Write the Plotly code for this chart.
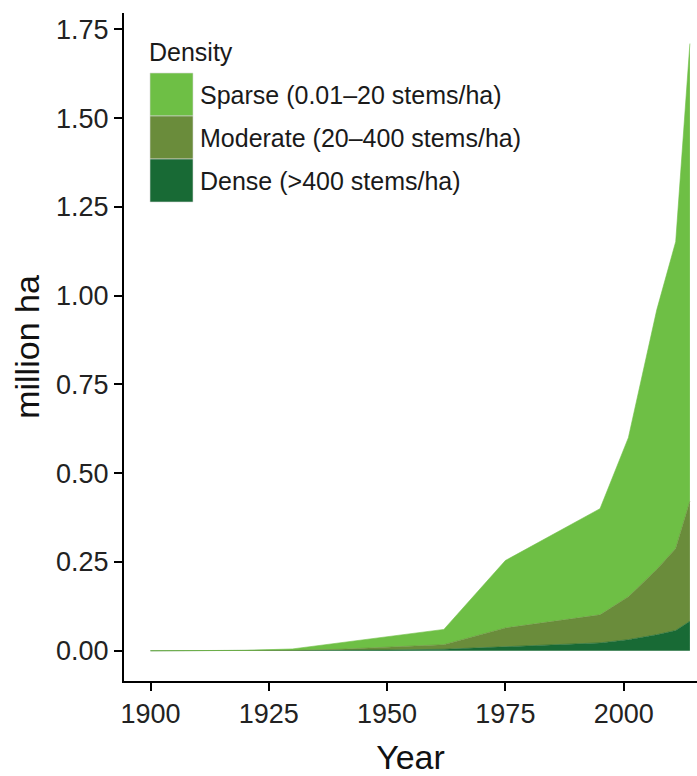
import plotly.graph_objects as go

# Area by tree density class (million ha)
years = [1900, 1910, 1920, 1930, 1940, 1950, 1962, 1975, 1995, 2001, 2007, 2011, 2014]
dense = [0.0, 0.0, 0.0, 0.0005, 0.001, 0.002, 0.004, 0.011, 0.022, 0.031, 0.045, 0.057, 0.083]
moderate = [0.0, 0.0, 0.0, 0.0005, 0.003, 0.007, 0.013, 0.053, 0.079, 0.121, 0.184, 0.231, 0.338]
sparse = [0.0, 0.0, 0.001, 0.004, 0.018, 0.031, 0.043, 0.190, 0.299, 0.448, 0.731, 0.864, 1.289]

series_names = ["Dense (>400 stems/ha)", "Moderate (20–400 stems/ha)", "Sparse (0.01–20 stems/ha)"]
colors = ["#186a35", "#6a8c3b", "#6ebf45"]

FONT = "Liberation Sans, Arial, sans-serif"
W, H = 697, 776
ML, MR, MT, MB = 124, 0, 13, 95

fig = go.Figure()
for name, vals, col in zip(series_names, [dense, moderate, sparse], colors):
    fig.add_trace(go.Scatter(
        x=years, y=vals, name=name, mode='lines',
        stackgroup='one',
        line=dict(width=0.6, color=col),
        fillcolor=col,
        showlegend=False
    ))


# manual legend (big square keys like the original)
def px_x(p):
    return (p - ML) / (W - ML - MR)


def px_y(p):
    return (H - MB - p) / (H - MT - MB)


key_tops = [73, 116, 159]
legend_order = [2, 1, 0]  # sparse, moderate, dense
for top, idx in zip(key_tops, legend_order):
    fig.add_shape(type='rect', xref='paper', yref='paper',
                  x0=px_x(150), x1=px_x(193), y0=px_y(top + 43), y1=px_y(top),
                  fillcolor=colors[idx], line=dict(width=0.6, color='#d8d8d8'))
    fig.add_annotation(x=px_x(198), y=px_y(top + 21.5), xref='paper', yref='paper',
                       text=series_names[idx], showarrow=False,
                       xanchor='left', yanchor='middle',
                       font=dict(family=FONT, size=25, color='#1a1a1a'))
fig.add_annotation(x=px_x(147), y=px_y(52), xref='paper', yref='paper',
                   text="Density", showarrow=False, xanchor='left', yanchor='middle',
                   font=dict(family=FONT, size=25, color='#1a1a1a'))

axis_common = dict(
    showline=True, linecolor='black', linewidth=2,
    ticks='outside', ticklen=8, tickwidth=1.5, tickcolor='black',
    showgrid=False, zeroline=False, automargin=False,
    tickfont=dict(family=FONT, size=27, color='#222222'),
)

fig.update_layout(
    width=W, height=H,
    margin=dict(l=ML, r=MR, t=MT, b=MB, autoexpand=False),
    plot_bgcolor='white', paper_bgcolor='white',
    showlegend=False,
    xaxis=dict(range=[1894.4, 2015.5], tickvals=[1900, 1925, 1950, 1975, 2000],
               title=dict(text="Year", font=dict(family=FONT, size=34, color='#111111'),
                          standoff=18),
               **axis_common),
    yaxis=dict(range=[-0.0853, 1.796], tickvals=[0, 0.25, 0.5, 0.75, 1.0, 1.25, 1.5, 1.75],
               tickformat='.2f',
               title=dict(text="million ha", font=dict(family=FONT, size=34, color='#111111'),
                          standoff=6),
               **axis_common),
)

# page body has a default 8px margin; drop it so the figure sits at the corner
fig.write_html("out.html", config={'displayModeBar': False},
               post_script="document.body.style.margin='0';")
